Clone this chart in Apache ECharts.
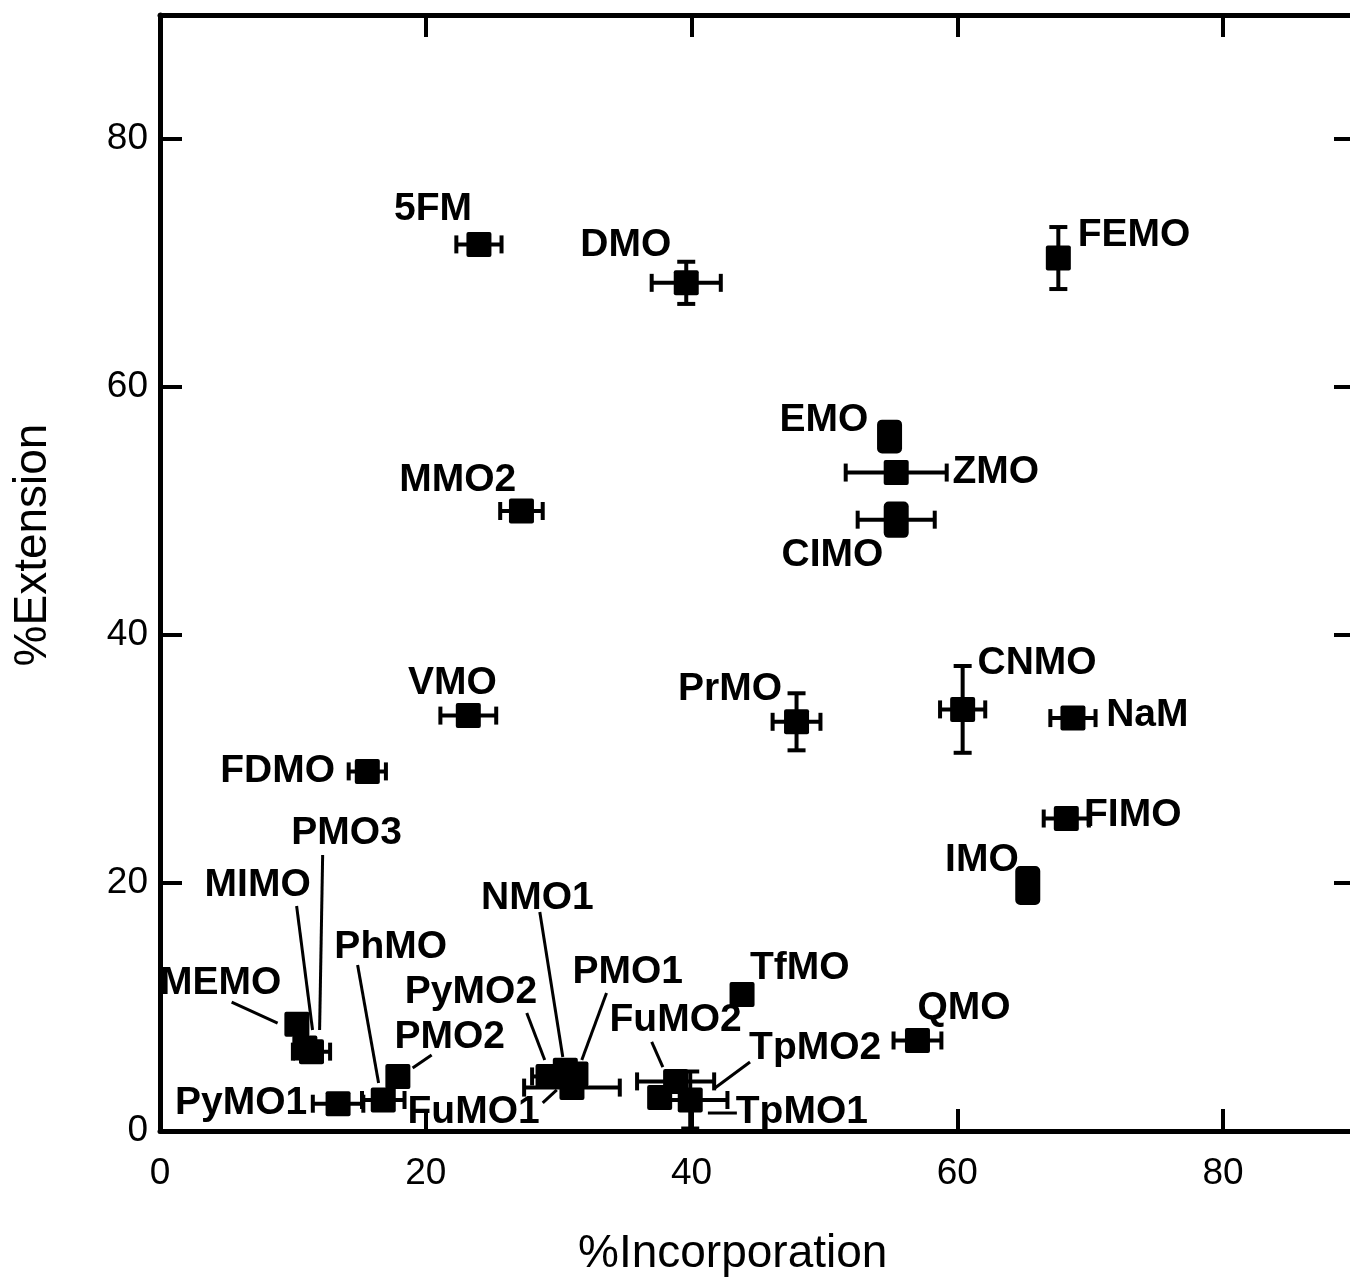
<!DOCTYPE html>
<html>
<head>
<meta charset="utf-8">
<script src="https://cdn.jsdelivr.net/npm/echarts@6/dist/echarts.min.js"></script>
<style>
  html, body { margin: 0; padding: 0; background: #fff; }
  #chart { width: 1350px; height: 1281px; }
</style>
</head>
<body>
<div id="chart"></div>
<script>
// compounds and their measured values (% incorporation, % extension, errors)
const names = ["5FM", "DMO", "FEMO", "EMO", "ZMO", "CIMO", "MMO2", "VMO", "PrMO", "CNMO",
  "NaM", "FIMO", "IMO", "FDMO", "TfMO", "QMO", "MEMO", "MIMO", "PMO3", "PhMO",
  "PMO2", "PyMO1", "PyMO2", "NMO1", "PMO1", "FuMO1", "FuMO2", "TpMO2", "TpMO1"];
const incorporation = [24.0, 39.6, 67.6, 54.9, 55.4, 55.4, 27.2, 23.2, 47.9, 60.4,
  68.7, 68.2, 65.3, 15.6, 43.8, 57.0, 10.3, 10.9, 11.4, 16.8,
  17.9, 13.4, 29.2, 30.5, 31.3, 31.0, 38.8, 37.6, 39.9];
const extension = [71.5, 68.4, 70.4, 56.0, 53.1, 49.3, 50.0, 33.5, 33.0, 34.0,
  33.3, 25.2, 19.8, 29.0, 11.0, 7.3, 8.6, 6.7, 6.4, 2.5,
  4.4, 2.2, 4.4, 4.9, 4.6, 3.5, 4.0, 2.7, 2.5];
const incorporationErr = [1.7, 2.6, 0, 0, 3.8, 2.9, 1.6, 2.1, 1.8, 1.7,
  1.7, 1.7, 0, 1.4, 0, 1.8, 0, 0, 1.4, 1.6,
  0, 1.9, 1.2, 0, 0, 3.6, 2.9, 0.6, 2.8];
const extensionErr = [0, 1.7, 2.5, 0.6, 0, 0.7, 0, 0, 2.3, 3.5,
  0, 0, 0.8, 0, 0, 0, 0, 0, 0, 0,
  0, 0, 0, 0, 0, 0, 0, 0, 2.3];

// label anchors (data units) and leader lines
const labelAt = {
  "5FM": [20.55, 74.3], "DMO": [35.05, 71.45], "FEMO": [73.3, 72.2], "EMO": [49.96, 57.3],
  "ZMO": [62.9, 53.1], "CIMO": [50.6, 46.45], "MMO2": [22.4, 52.5], "VMO": [22.0, 36.1],
  "PrMO": [42.9, 35.6], "CNMO": [66.0, 37.7], "NaM": [74.3, 33.5], "FIMO": [73.2, 25.5],
  "IMO": [61.85, 21.8], "FDMO": [8.85, 29.0], "TfMO": [48.15, 13.15], "QMO": [60.5, 9.9],
  "MEMO": [4.57, 11.9], "MIMO": [7.35, 19.8], "PMO3": [14.04, 24.0], "PhMO": [17.36, 14.8],
  "PMO2": [21.8, 7.6], "PyMO1": [6.1, 2.2], "FuMO1": [23.6, 1.5], "NMO1": [28.4, 18.8],
  "PyMO2": [23.4, 11.2], "PMO1": [35.2, 12.8], "FuMO2": [38.8, 8.9], "TpMO2": [49.3, 6.7],
  "TpMO1": [48.3, 1.5]
};
const leaders = [
  [5.39, 10.4, 8.85, 8.7], [10.28, 18.15, 11.48, 8.15], [12.24, 22.26, 12.01, 8.15],
  [14.87, 13.39, 16.45, 3.87], [20.44, 6.13, 19.01, 5.08], [27.6, 9.52, 28.95, 5.73],
  [28.58, 17.66, 30.31, 5.97], [33.6, 11.13, 31.74, 5.73], [28.8, 2.26, 29.86, 3.31],
  [37.0, 7.18, 37.84, 5.16], [44.4, 5.56, 41.76, 3.47], [41.23, 1.45, 43.41, 1.45]
];

const pointData = names.map((n, i) => [incorporation[i], extension[i], incorporationErr[i], extensionErr[i]]);
const labelData = names.map((n) => [labelAt[n][0], labelAt[n][1], n]);

const LW = 4, CAP = 9, SZ = 25;
const FONT = "'Liberation Sans', Arial, sans-serif";

function renderPoint(params, api) {
  const x = api.value(0), y = api.value(1), ex = api.value(2), ey = api.value(3);
  const c = api.coord([x, y]);
  const kids = [];
  const st = { stroke: "#000", lineWidth: LW };
  if (ex > 0) {
    const l = api.coord([x - ex, y]), r = api.coord([x + ex, y]);
    kids.push({ type: "line", shape: { x1: l[0], y1: l[1], x2: r[0], y2: r[1] }, style: st });
    kids.push({ type: "line", shape: { x1: l[0], y1: l[1] - CAP, x2: l[0], y2: l[1] + CAP }, style: st });
    kids.push({ type: "line", shape: { x1: r[0], y1: r[1] - CAP, x2: r[0], y2: r[1] + CAP }, style: st });
  }
  if (ey > 1) {
    const t = api.coord([x, y + ey]), b = api.coord([x, y - ey]);
    kids.push({ type: "line", shape: { x1: t[0], y1: t[1], x2: b[0], y2: b[1] }, style: st });
    kids.push({ type: "line", shape: { x1: t[0] - CAP, y1: t[1], x2: t[0] + CAP, y2: t[1] }, style: st });
    kids.push({ type: "line", shape: { x1: b[0] - CAP, y1: b[1], x2: b[0] + CAP, y2: b[1] }, style: st });
  }
  // small spread in extension shows as a taller, rounded marker
  const h = ey > 0 && ey <= 1 ? Math.abs(api.coord([x, y - ey])[1] - api.coord([x, y + ey])[1]) + SZ - 6 : SZ;
  kids.push({
    type: "rect",
    shape: { x: c[0] - SZ / 2, y: c[1] - h / 2, width: SZ, height: h, r: h > SZ ? 5 : 2 },
    style: { fill: "#000" }
  });
  return { type: "group", children: kids };
}

function renderLabel(params, api) {
  const c = api.coord([api.value(0), api.value(1)]);
  return {
    type: "text",
    style: {
      text: labelData[params.dataIndex][2],
      x: c[0], y: c[1],
      align: "center", verticalAlign: "middle",
      font: "bold 39px " + FONT,
      fill: "#000"
    }
  };
}

function renderLeader(params, api) {
  const a = api.coord([api.value(0), api.value(1)]);
  const b = api.coord([api.value(2), api.value(3)]);
  return {
    type: "line",
    shape: { x1: a[0], y1: a[1], x2: b[0], y2: b[1] },
    style: { stroke: "#000", lineWidth: 3 }
  };
}

const tickFont = { fontFamily: FONT, fontSize: 37, color: "#000" };

function valueAxis(extra) {
  return Object.assign({
    type: "value",
    min: 0,
    max: 90,
    interval: 20,
    splitLine: { show: false },
    axisLine: { show: true, onZero: false, lineStyle: { color: "#000", width: 5 } },
    axisTick: { show: true, inside: true, length: 22, lineStyle: { color: "#000", width: 4 } },
    axisLabel: Object.assign({ showMaxLabel: false }, tickFont)
  }, extra);
}

const chart = echarts.init(document.getElementById("chart"));
chart.setOption({
  backgroundColor: "#fff",
  animation: false,
  // the right frame of the original figure lies just past the picture edge
  grid: { left: 160, top: 15, width: 1196, height: 1116, outerBoundsMode: "none", containLabel: false },
  xAxis: [
    valueAxis({ position: "bottom", axisLabel: Object.assign({ showMaxLabel: false, margin: 24 }, tickFont) }),
    valueAxis({ position: "top", axisLabel: { show: false } })
  ],
  yAxis: [
    valueAxis({ position: "left", axisLabel: Object.assign({ showMaxLabel: false, margin: 12 }, tickFont) }),
    valueAxis({ position: "right", axisLabel: { show: false } })
  ],
  graphic: [
    {
      type: "text",
      left: 578, top: 1231,
      style: { text: "%Incorporation", font: "46px " + FONT, fill: "#000" }
    },
    {
      type: "text",
      x: 33, y: 545, rotation: Math.PI / 2,
      style: { text: "%Extension", font: "46px " + FONT, fill: "#000", align: "center", verticalAlign: "middle" }
    }
  ],
  series: [
    {
      type: "custom",
      name: "leaders",
      renderItem: renderLeader,
      data: leaders,
      encode: { x: [0, 2], y: [1, 3] },
      silent: true,
      z: 2
    },
    {
      type: "custom",
      name: "points",
      renderItem: renderPoint,
      data: pointData,
      encode: { x: 0, y: 1 },
      z: 3
    },
    {
      type: "custom",
      name: "labels",
      renderItem: renderLabel,
      data: labelData.map((d) => [d[0], d[1]]),
      encode: { x: 0, y: 1 },
      silent: true,
      z: 4
    }
  ]
});
</script>
</body>
</html>
